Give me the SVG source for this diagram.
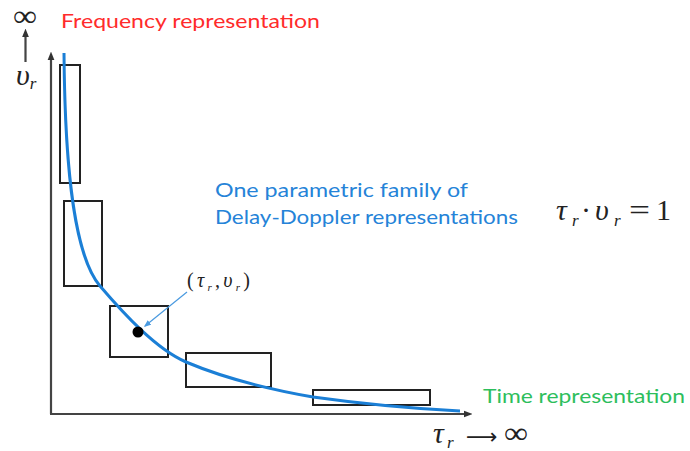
<svg xmlns="http://www.w3.org/2000/svg" width="690" height="451" viewBox="0 0 690 451">
  <defs>
    <style>
      .label { font-family: Lato, "Open Sans", "Liberation Sans", sans-serif; font-size: 20px; }
      .math { font-family: "Liberation Serif", "DejaVu Serif", serif; font-style: italic; fill: #222; }
      .mathUp { font-family: "Liberation Serif", "DejaVu Serif", serif; fill: #222; }
      .axis { stroke: #444; stroke-width: 2.2; fill: none; }
      .box { stroke: #222; stroke-width: 2; fill: none; }
    </style>
    <marker id="axHead" viewBox="0 0 10 10" refX="5" refY="5" markerWidth="4" markerHeight="4" orient="auto">
      <path d="M0,1 L10,5 L0,9 Z" fill="#333"/>
    </marker>
    <marker id="ptrHead" viewBox="0 0 10 10" refX="8" refY="5" markerWidth="6" markerHeight="6" orient="auto">
      <path d="M0,1 L10,5 L0,9 Z" fill="#4a9ae0"/>
    </marker>
  </defs>

  <rect width="690" height="451" fill="#ffffff"/>

  <!-- axes -->
  <g id="axes">
    <path class="axis" d="M51,414 L51,56" marker-end="url(#axHead)"/>
    <path class="axis" d="M50,414 L468,414" marker-end="url(#axHead)"/>
    <path class="axis" d="M25.5,62 L25.5,33" stroke-width="2" marker-end="url(#axHead)"/>
  </g>

  <!-- axis labels -->
  <g id="axis-labels">
    <text class="mathUp" x="13" y="26" font-size="30" textLength="24" lengthAdjust="spacingAndGlyphs">∞</text>
    <text class="math" x="16" y="85" font-size="30">υ<tspan font-size="17" dy="4">r</tspan></text>
    <text class="math" x="433" y="443" font-size="30">τ</text>
    <text class="math" x="447" y="448" font-size="17">r</text>
    <text x="466" y="444" font-family="'DejaVu Sans', sans-serif" font-size="22" fill="#222">⟶</text>
    <text class="mathUp" x="504" y="443" font-size="30" textLength="24" lengthAdjust="spacingAndGlyphs">∞</text>
  </g>

  <!-- resolution cells -->
  <g id="cell-1"><rect class="box" x="60" y="65" width="20" height="118"/></g>
  <g id="cell-2"><rect class="box" x="64" y="201" width="38" height="85"/></g>
  <g id="cell-3"><rect class="box" x="110" y="306" width="58" height="51"/></g>
  <g id="cell-4"><rect class="box" x="186" y="353" width="85" height="34"/></g>
  <g id="cell-5"><rect class="box" x="313" y="390" width="117" height="15"/></g>

  <!-- hyperbola tau * nu = 1 -->
  <g id="curve">
    <path d="M64,53 C65,180 76,258 100,286 C124,314 156,349 186,362 C226,379 273,390 313,397 C363,404 420,409 460,411"
          fill="none" stroke="#1b7fd6" stroke-width="3"/>
  </g>

  <!-- marked point -->
  <g id="point">
    <circle cx="138" cy="332" r="5.5" fill="#000"/>
    <text class="math" x="187" y="287" font-size="20" fill="#444" textLength="63" lengthAdjust="spacing"><tspan font-style="normal">(</tspan>τ<tspan font-size="11" dy="4">r</tspan><tspan dy="-4" font-style="normal">,</tspan>υ<tspan font-size="11" dy="4">r</tspan><tspan dy="-4" font-style="normal">)</tspan></text>
  </g>

  <!-- connectors -->
  <g id="connectors">
    <path d="M187,292 L145,326" stroke="#4a9ae0" stroke-width="1.2" fill="none" marker-end="url(#ptrHead)"/>
  </g>

  <!-- captions -->
  <g id="caption-frequency">
    <text class="label" x="61" y="28" fill="#ff2b2b" textLength="259" lengthAdjust="spacingAndGlyphs">Frequency representation</text>
  </g>
  <g id="caption-family">
    <text class="label" x="215" y="197" fill="#2583d8" textLength="253" lengthAdjust="spacingAndGlyphs">One parametric family of</text>
    <text class="label" x="215" y="224" fill="#2583d8" textLength="303" lengthAdjust="spacingAndGlyphs">Delay-Doppler representations</text>
  </g>
  <g id="caption-time">
    <text class="label" x="483" y="403" fill="#2dbe5c" textLength="202" lengthAdjust="spacingAndGlyphs">Time representation</text>
  </g>

  <!-- relation -->
  <g id="relation">
    <text class="math" x="556" y="220" font-size="30">τ</text>
    <text class="math" x="572" y="226" font-size="17">r</text>
    <text class="mathUp" x="581" y="220" font-size="30">·</text>
    <text class="math" x="595" y="220" font-size="30">υ</text>
    <text class="math" x="614" y="226" font-size="17">r</text>
    <text class="mathUp" x="629" y="220" font-size="30" textLength="21" lengthAdjust="spacingAndGlyphs">=</text>
    <text class="mathUp" x="656" y="220" font-size="30">1</text>
  </g>
</svg>
